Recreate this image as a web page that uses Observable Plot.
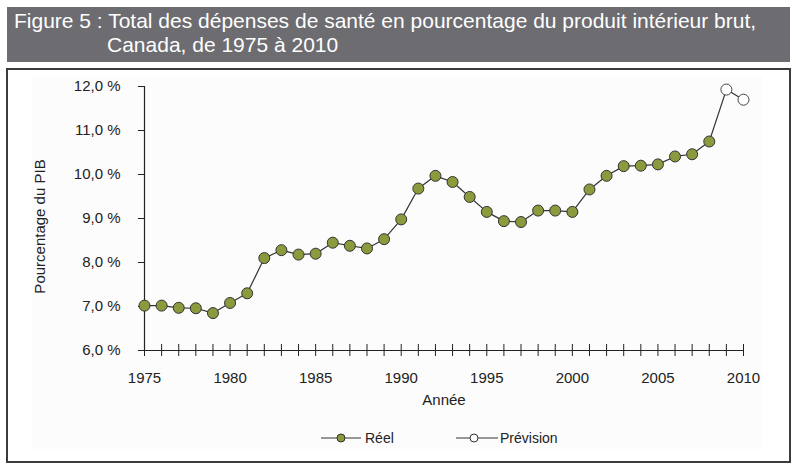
<!DOCTYPE html>
<html>
<head>
<meta charset="utf-8">
<script src="https://cdn.jsdelivr.net/npm/d3@7"></script>
<script src="https://cdn.jsdelivr.net/npm/@observablehq/plot@0.6"></script>
<style>
  html, body { margin: 0; padding: 0; background: #ffffff; }
  #page { position: relative; width: 796px; height: 470px; overflow: hidden;
          font-family: "Liberation Sans", Arial, sans-serif; }
  .band { position: absolute; left: 7px; top: 7px; width: 783px; height: 55px; background: #6c6c71; color: #ffffff; }
  .band div { position: absolute; font-size: 21px; line-height: 24px; white-space: nowrap; }
  .band .l1 { left: 7px; top: 2px; }
  .band .l2 { left: 100px; top: 26px; }
  .frame { position: absolute; left: 6px; top: 68px; width: 785px; height: 395px; box-sizing: border-box; border: 2px solid #3c3c3c; }
  .inner { position: absolute; left: 32px; top: 76px; width: 730px; height: 373px; background: #fcfcfc; }
  #chart { position: absolute; left: 0; top: 70px; }
  .legend { position: absolute; top: 428px; left: 0; width: 796px; height: 20px; font-size: 14px; color: #222; }
  .legend .item { position: absolute; top: 0; height: 20px; display: flex; align-items: center; white-space: nowrap; }
  .legend svg { display: block; }
</style>
</head>
<body>
<div id="page">
  <div class="band">
    <div class="l1">Figure 5 : Total des dépenses de santé en pourcentage du produit intérieur brut,</div>
    <div class="l2">Canada, de 1975 à 2010</div>
  </div>
  <div class="frame"></div>
  <div class="inner"></div>
  <div id="chart"></div>
  <div class="legend">
    <div class="item" style="left:321px">
      <svg width="40" height="20"><line x1="0" y1="10" x2="40" y2="10" stroke="#333" stroke-width="1.2"/><circle cx="20" cy="10" r="4" fill="#8b9a3c" stroke="#333" stroke-width="1"/></svg>
      <span style="margin-left:4px">Réel</span>
    </div>
    <div class="item" style="left:456px">
      <svg width="42" height="20"><line x1="0" y1="10" x2="42" y2="10" stroke="#333" stroke-width="1.2"/><circle cx="18" cy="10" r="4" fill="#ffffff" stroke="#333" stroke-width="1"/></svg>
      <span style="margin-left:2px">Prévision</span>
    </div>
  </div>
</div>
<script>
// Total health expenditure as a share of GDP, Canada
const reelYears = d3.range(1975, 2009);
const reelValues = [7.02, 7.02, 6.97, 6.96, 6.85, 7.08, 7.30, 8.10, 8.28, 8.18,
                    8.20, 8.45, 8.38, 8.32, 8.53, 8.98, 9.68, 9.97, 9.83, 9.49,
                    9.15, 8.94, 8.92, 9.18, 9.18, 9.15, 9.66, 9.97, 10.19, 10.20,
                    10.23, 10.41, 10.46, 10.75];
const previsionYears = [2009, 2010];
const previsionValues = [11.93, 11.70];
const yTicks = [6, 7, 8, 9, 10, 11, 12];
const xLabelTicks = [1975, 1980, 1985, 1990, 1995, 2000, 2005, 2010];
const xMinorTicks = d3.range(1975, 2011);

const reel = reelYears.map((year, i) => ({year, value: reelValues[i]}));
const prevision = previsionYears.map((year, i) => ({year, value: previsionValues[i]}));
const all = reel.concat(prevision);

const fmtPct = d => d.toFixed(1).replace(".", ",") + " %";

const chart = Plot.plot({
  width: 796,
  height: 350,
  marginLeft: 144,
  marginRight: 53,
  marginTop: 16,
  marginBottom: 70,
  style: {fontFamily: "'Liberation Sans', Arial, sans-serif", fontSize: "15px", color: "#222", background: "transparent", overflow: "visible"},
  x: {domain: [1975, 2010]},
  y: {domain: [6, 12]},
  marks: [
    // axis lines
    Plot.ruleY([6], {x1: 1975, x2: 2010, stroke: "#222", strokeWidth: 1.2}),
    Plot.ruleX([1975], {y1: 6, y2: 12, stroke: "#222", strokeWidth: 1.2}),
    // yearly ticks crossing the x axis
    Plot.axisX({ticks: xMinorTicks, tickSize: 12, dy: -6, tickFormat: () => "", label: null, stroke: "#222"}),
    Plot.axisX({ticks: xLabelTicks, tickSize: 0, tickPadding: 22, tickFormat: d => String(d), label: null}),
    Plot.axisY({ticks: yTicks, tickSize: 6, tickPadding: 18, tickFormat: fmtPct, label: null, stroke: "#222"}),
    // axis titles
    Plot.text(["Année"], {frameAnchor: "bottom", dy: 54, fontSize: 15, fill: "#222"}),
    Plot.text(["Pourcentage du PIB"], {frameAnchor: "left", textAnchor: "middle", rotate: -90, dx: -104, dy: 8, fontSize: 15, fill: "#222"}),
    // series
    Plot.line(all, {x: "year", y: "value", stroke: "#333", strokeWidth: 1.2}),
    Plot.dot(reel, {x: "year", y: "value", r: 5.5, fill: "#8b9a3c", stroke: "#333", strokeWidth: 1}),
    Plot.dot(prevision, {x: "year", y: "value", r: 5.5, fill: "#ffffff", stroke: "#444", strokeWidth: 1})
  ]
});
document.getElementById("chart").appendChild(chart);
</script>
</body>
</html>
